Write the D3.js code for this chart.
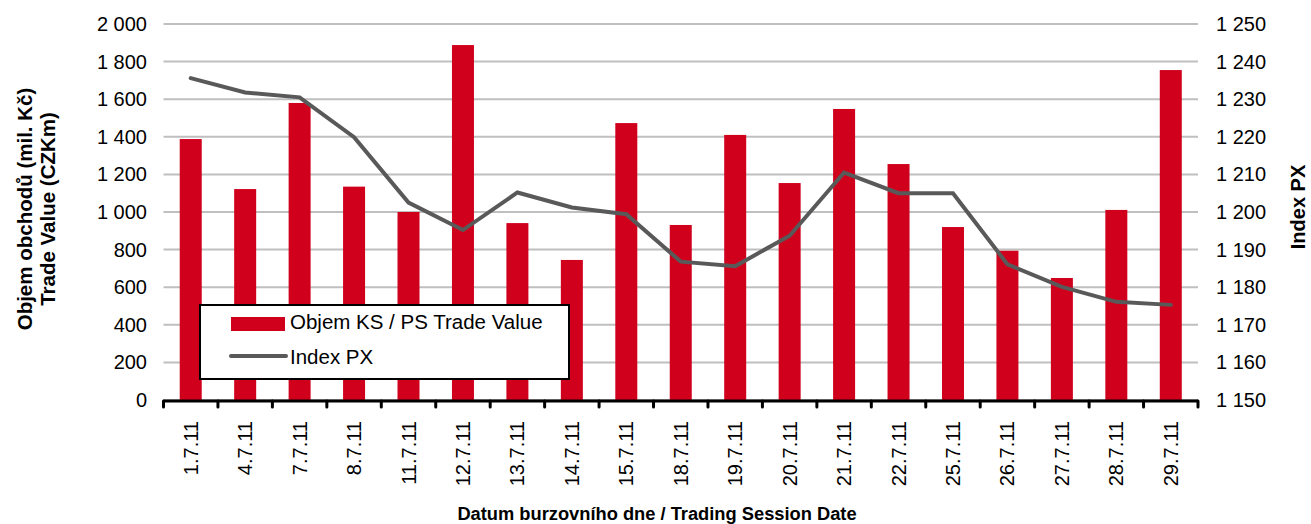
<!DOCTYPE html>
<html>
<head>
<meta charset="utf-8">
<script src="https://d3js.org/d3.v7.min.js"></script>
<style>
body { margin: 0; background: #fff; }
svg { display: block; font-family: "Liberation Sans", Arial, sans-serif; }
.grid line { stroke: #bfbfbf; stroke-width: 2px; }
.tick-label { font-size: 20px; fill: #000; }
.title { font-size: 20.5px; font-weight: bold; fill: #000; }
</style>
<title>Objem obchodů a Index PX</title>
</head>
<body>
<script>
var dates = ["1.7.11", "4.7.11", "7.7.11", "8.7.11", "11.7.11", "12.7.11", "13.7.11",
  "14.7.11", "15.7.11", "18.7.11", "19.7.11", "20.7.11", "21.7.11", "22.7.11",
  "25.7.11", "26.7.11", "27.7.11", "28.7.11", "29.7.11"];

var tradeValue = [1388, 1122, 1580, 1135, 1000, 1888, 941, 745, 1473, 931,
  1410, 1154, 1548, 1255, 920, 794, 649, 1011, 1755];

var indexPX = [1235.6, 1231.8, 1230.5, 1219.9, 1202.5, 1195.2, 1205.2, 1201.2,
  1199.4, 1186.8, 1185.6, 1193.7, 1210.5, 1205.0, 1205.0, 1186.1, 1180.1,
  1176.1, 1175.3];

var leftTicks = [0, 200, 400, 600, 800, 1000, 1200, 1400, 1600, 1800, 2000];
var rightTicks = [1150, 1160, 1170, 1180, 1190, 1200, 1210, 1220, 1230, 1240, 1250];

var width = 1311, height = 524;
var plot = {left: 163.5, right: 1198, top: 24, bottom: 400};

var fmt = function(v) { return d3.format(",")(v).replace(/,/g, " "); };

var svg = d3.select("body").append("svg")
    .attr("width", width)
    .attr("height", height);

var x = d3.scaleBand()
    .domain(dates)
    .range([plot.left, plot.right]);

var yL = d3.scaleLinear().domain([0, 2000]).range([plot.bottom, plot.top]);
var yR = d3.scaleLinear().domain([1150, 1250]).range([plot.bottom, plot.top]);

var cx = function(d) { return x(d) + x.bandwidth() / 2; };

// gridlines
svg.append("g").attr("class", "grid")
  .selectAll("line")
    .data(leftTicks)
  .enter().append("line")
    .attr("x1", plot.left).attr("x2", plot.right)
    .attr("y1", function(d) { return yL(d); })
    .attr("y2", function(d) { return yL(d); });

// bars
svg.append("g")
  .selectAll("rect")
    .data(tradeValue)
  .enter().append("rect")
    .attr("x", function(d, i) { return cx(dates[i]) - 11; })
    .attr("width", 22)
    .attr("y", function(d) { return yL(d); })
    .attr("height", function(d) { return yL(0) - yL(d); })
    .attr("fill", "#d0001c");

// line
var line = d3.line()
    .x(function(d, i) { return cx(dates[i]); })
    .y(function(d) { return yR(d); });

svg.append("path")
    .datum(indexPX)
    .attr("d", line)
    .attr("fill", "none")
    .attr("stroke", "#595959")
    .attr("stroke-width", 4)
    .attr("stroke-linecap", "round");

// x axis
var xAxis = svg.append("g");
xAxis.append("line")
    .attr("x1", plot.left).attr("x2", plot.right)
    .attr("y1", plot.bottom + 1).attr("y2", plot.bottom + 1)
    .attr("stroke", "#000").attr("stroke-width", 3);
xAxis.selectAll(".xt")
    .data(dates.concat(["end"]))
  .enter().append("line")
    .attr("x1", function(d, i) { return plot.left + i * x.bandwidth(); })
    .attr("x2", function(d, i) { return plot.left + i * x.bandwidth(); })
    .attr("y1", plot.bottom + 1).attr("y2", plot.bottom + 7)
    .attr("stroke", "#000").attr("stroke-width", 3)
    .attr("stroke-linecap", "round");
xAxis.selectAll("text")
    .data(dates)
  .enter().append("text")
    .attr("class", "tick-label")
    .attr("text-anchor", "end")
    .attr("transform", function(d) {
      return "translate(" + (cx(d) + 7) + "," + (plot.bottom + 21) + ") rotate(-90)";
    })
    .text(function(d) { return d; });

// left axis labels
svg.append("g").selectAll("text")
    .data(leftTicks)
  .enter().append("text")
    .attr("class", "tick-label")
    .attr("text-anchor", "end")
    .attr("x", 147)
    .attr("y", function(d) { return yL(d) + 7; })
    .text(fmt);

// right axis labels
svg.append("g").selectAll("text")
    .data(rightTicks)
  .enter().append("text")
    .attr("class", "tick-label")
    .attr("x", 1216)
    .attr("y", function(d) { return yR(d) + 7; })
    .text(fmt);

// axis titles
var lt = svg.append("text")
    .attr("class", "title")
    .attr("text-anchor", "middle")
    .attr("transform", "translate(32,209) rotate(-90)");
lt.append("tspan").attr("x", 0).attr("dy", 0).text("Objem obchodů (mil. Kč)");
lt.append("tspan").attr("x", 0).attr("dy", 23).text("Trade Value (CZKm)");

svg.append("text")
    .attr("class", "title")
    .style("font-size", "20px")
    .attr("text-anchor", "middle")
    .attr("transform", "translate(1305,207) rotate(-90)")
    .text("Index PX");

svg.append("text")
    .attr("class", "title")
    .style("font-size", "18.3px")
    .attr("text-anchor", "middle")
    .attr("x", 657)
    .attr("y", 520)
    .text("Datum burzovního dne / Trading Session Date");

// legend
var lg = svg.append("g").attr("transform", "translate(200,305)");
lg.append("rect")
    .attr("width", 369).attr("height", 74)
    .attr("fill", "#fff").attr("stroke", "#000").attr("stroke-width", 2);
lg.append("rect")
    .attr("x", 31).attr("y", 12).attr("width", 54).attr("height", 14)
    .attr("fill", "#d0001c");
lg.append("line")
    .attr("x1", 31).attr("x2", 86).attr("y1", 51).attr("y2", 51)
    .attr("stroke", "#595959").attr("stroke-width", 4).attr("stroke-linecap", "round");
lg.append("text")
    .attr("x", 90).attr("y", 24)
    .style("font-size", "20.5px")
    .text("Objem KS / PS Trade Value");
lg.append("text")
    .attr("x", 90).attr("y", 59)
    .style("font-size", "20.5px")
    .text("Index PX");
</script>
</body>
</html>
